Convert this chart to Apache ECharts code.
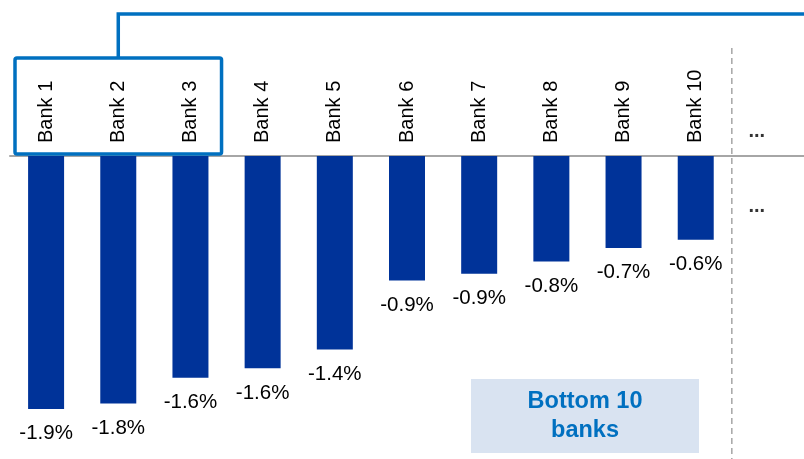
<!DOCTYPE html>
<html><head><meta charset="utf-8">
<script src="https://cdn.jsdelivr.net/npm/echarts@6/dist/echarts.min.js"></script>
<style>html,body{margin:0;padding:0;background:#fff}#c{width:804px;height:459px}</style>
</head><body><div id="c"></div>
<script>
const categories = ['Bank 1','Bank 2','Bank 3','Bank 4','Bank 5','Bank 6','Bank 7','Bank 8','Bank 9','Bank 10','...'];
const values = [-1.87,-1.83,-1.64,-1.57,-1.43,-0.92,-0.87,-0.78,-0.68,-0.62,null];
const boxText = 'Bottom 10\nbanks';
const FONT = '"Liberation Sans", Arial, sans-serif';

const chart = echarts.init(document.getElementById('c'), null, {renderer:'canvas'});
chart.setOption({
  animation:false,
  grid:{left:10, top:156, width:800, height:303, containLabel:false},
  xAxis:{type:'category', position:'top', data:categories,
    axisLine:{lineStyle:{color:'#A6A6A6', width:2}},
    axisTick:{inside:true, length:6, lineStyle:{color:'#A6A6A6', width:1.5}},
    axisLabel:{rotate:90, margin:13, fontSize:20, color:'#000', fontFamily:FONT,
      formatter: v => v === '...' ? '' : v}},
  yAxis:{type:'value', min:-2.24, max:0, show:false, splitLine:{show:false}},
  series:[{type:'bar', data:values, barWidth:36,
    itemStyle:{color:'#003399'},
    label:{show:true, position:'bottom', distance:14, fontSize:20.5, color:'#000', fontFamily:FONT,
      formatter: p => p.value == null ? '' : p.value.toFixed(1) + '%'}}]
});

const px = c => chart.convertToPixel({xAxisIndex:0}, c);
const x1 = px(categories[0]), x2 = px(categories[1]), x3 = px(categories[2]);
const x10 = px(categories[9]), x11 = px(categories[10]);
const cw = x2 - x1;
const sep = (x10 + x11) / 2;
const bl = x1 - cw/2 + 5, br = x3 + cw/2 - 5;
const bmid = (bl + br) / 2;
const blue = '#0070C0';
chart.setOption({graphic:[
  {type:'line', shape:{x1:sep, y1:48, x2:sep, y2:459}, style:{stroke:'#A6A6A6', lineWidth:1.5, lineDash:[6,4]}, z:1},
  {type:'rect', shape:{x:bl, y:58, width:br-bl, height:96, r:2}, style:{fill:'none', stroke:blue, lineWidth:3.5}, z:10},
  {type:'polyline', shape:{points:[[bmid,58],[bmid,14],[810,14]]}, style:{fill:'none', stroke:blue, lineWidth:3.5}, z:10},
  {type:'text', x:sep+25, y:131, style:{text:'...', font:'bold 20px '+FONT, fill:'#333', align:'center', verticalAlign:'middle'}},
  {type:'text', x:sep+25, y:206, style:{text:'...', font:'bold 20px '+FONT, fill:'#333', align:'center', verticalAlign:'middle'}},
  {type:'rect', shape:{x:471, y:379, width:228, height:74}, style:{fill:'#D9E3F1'}, z:5},
  {type:'text', x:585, y:416, style:{text:boxText, font:'bold 23.5px '+FONT, fill:blue, align:'center', verticalAlign:'middle', lineHeight:29}, z:6}
]});
</script></body></html>
